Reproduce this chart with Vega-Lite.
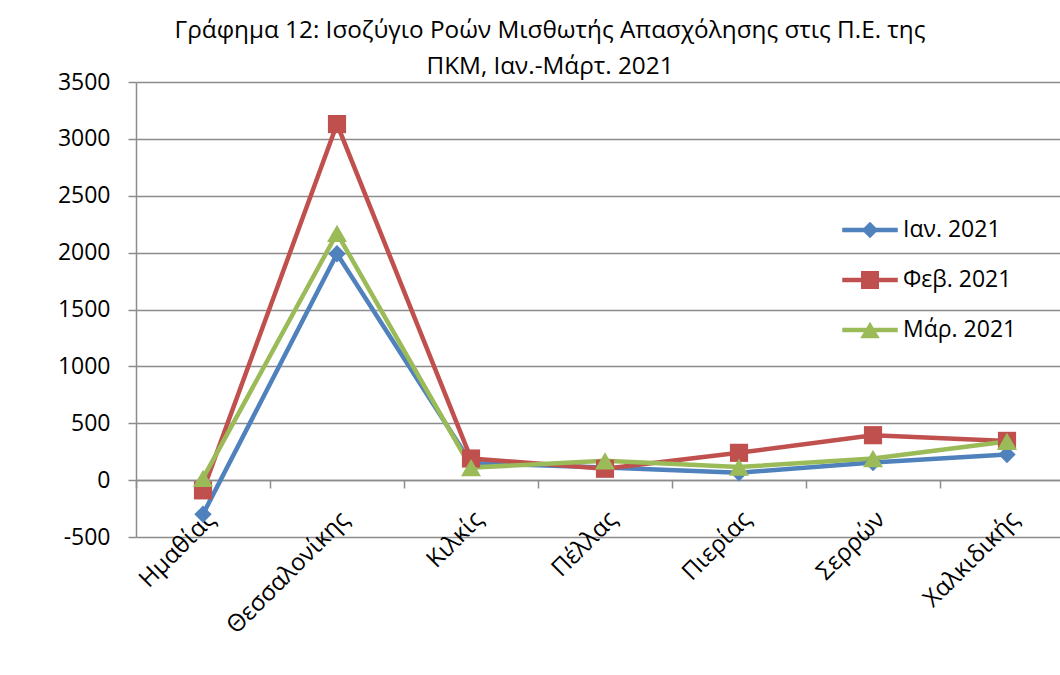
{
  "$schema": "https://vega.github.io/schema/vega-lite/v6.json",
  "width": 924,
  "height": 455,
  "autosize": {"type": "none"},
  "padding": {"left": 136, "top": 82, "right": 0, "bottom": 138},
  "background": "white",
  "config": {"view": {"stroke": null}},
  "title": {
    "text": ["Γράφημα 12: Ισοζύγιο Ροών Μισθωτής Απασχόλησης στις Π.Ε. της", "ΠΚΜ, Ιαν.-Μάρτ. 2021"],
    "font": "Open Sans", "fontSize": 24.3, "fontWeight": "normal", "color": "#000000",
    "lineHeight": 36, "anchor": "middle", "frame": "group", "dx": -48, "offset": -8
  },
  "data": {"values": [
    {"region": "Ημαθίας", "series": "Ιαν. 2021", "value": -300},
    {"region": "Θεσσαλονίκης", "series": "Ιαν. 2021", "value": 1990},
    {"region": "Κιλκίς", "series": "Ιαν. 2021", "value": 150},
    {"region": "Πέλλας", "series": "Ιαν. 2021", "value": 110},
    {"region": "Πιερίας", "series": "Ιαν. 2021", "value": 65},
    {"region": "Σερρών", "series": "Ιαν. 2021", "value": 155},
    {"region": "Χαλκιδικής", "series": "Ιαν. 2021", "value": 225},
    {"region": "Ημαθίας", "series": "Φεβ. 2021", "value": -90},
    {"region": "Θεσσαλονίκης", "series": "Φεβ. 2021", "value": 3130},
    {"region": "Κιλκίς", "series": "Φεβ. 2021", "value": 190},
    {"region": "Πέλλας", "series": "Φεβ. 2021", "value": 100},
    {"region": "Πιερίας", "series": "Φεβ. 2021", "value": 240},
    {"region": "Σερρών", "series": "Φεβ. 2021", "value": 395},
    {"region": "Χαλκιδικής", "series": "Φεβ. 2021", "value": 345},
    {"region": "Ημαθίας", "series": "Μάρ. 2021", "value": 15},
    {"region": "Θεσσαλονίκης", "series": "Μάρ. 2021", "value": 2170},
    {"region": "Κιλκίς", "series": "Μάρ. 2021", "value": 110},
    {"region": "Πέλλας", "series": "Μάρ. 2021", "value": 170},
    {"region": "Πιερίας", "series": "Μάρ. 2021", "value": 115},
    {"region": "Σερρών", "series": "Μάρ. 2021", "value": 190},
    {"region": "Χαλκιδικής", "series": "Μάρ. 2021", "value": 340}
  ]},
  "layer": [
    {
      "transform": [{"filter": "datum.value > 100000"}],
      "mark": {"type": "point", "filled": true, "opacity": 1, "strokeWidth": 0},
      "encoding": {
        "x": {"field": "region", "type": "nominal", "sort": ["Ημαθίας", "Θεσσαλονίκης", "Κιλκίς", "Πέλλας", "Πιερίας", "Σερρών", "Χαλκιδικής"], "axis": null},
        "y": {"field": "value", "type": "quantitative"},
        "color": {
          "field": "series", "type": "nominal",
          "scale": {"domain": ["Ιαν. 2021", "Φεβ. 2021", "Μάρ. 2021"], "range": ["#4F81BD", "#C0504D", "#9BBB59"]},
          "legend": {
            "orient": "none", "legendX": 719, "legendY": 133, "title": null,
            "symbolSize": 900, "symbolStrokeWidth": 0, "symbolOpacity": 1,
            "labelFont": "Open Sans", "labelFontSize": 23, "labelColor": "#000000",
            "labelOffset": 18, "rowPadding": 23, "padding": 0
          }
        },
        "shape": {
          "field": "series", "type": "nominal",
          "scale": {
            "domain": ["Ιαν. 2021", "Φεβ. 2021", "Μάρ. 2021"],
            "range": [
              "M-1.85,-0.15H1.85V0.15H-1.85Z M0,-0.55L0.55,0L0,0.55L-0.55,0Z",
              "M-1.85,-0.15H1.85V0.15H-1.85Z M-0.6,-0.6H0.6V0.6H-0.6Z",
              "M-1.85,-0.15H1.85V0.15H-1.85Z M0,-0.55L0.65,0.55H-0.65Z"
            ]
          },
          "legend": null
        }
      }
    },
    {
      "mark": {"type": "line", "strokeWidth": 4.5},
      "encoding": {
        "x": {
          "field": "region", "type": "nominal",
          "sort": ["Ημαθίας", "Θεσσαλονίκης", "Κιλκίς", "Πέλλας", "Πιερίας", "Σερρών", "Χαλκιδικής"],
          "scale": {"type": "band", "range": [0, 938], "paddingInner": 0, "paddingOuter": 0},
          "axis": {
            "title": null, "orient": "bottom", "domain": false, "ticks": false, "grid": false,
            "labelAngle": -45, "labelFont": "Open Sans", "labelFontSize": 24, "labelColor": "#000000",
            "labelPadding": -30
          }
        },
        "y": {
          "field": "value", "type": "quantitative",
          "scale": {"domain": [-500, 3500], "nice": false, "zero": false},
          "axis": {
            "title": null, "values": [-500, 0, 500, 1000, 1500, 2000, 2500, 3000, 3500],
            "labelExpr": "'' + datum.value",
            "grid": true, "gridColor": "#8c8c8c", "gridWidth": 1.5,
            "domainColor": "#8c8c8c", "domainWidth": 1.5,
            "tickColor": "#8c8c8c", "tickWidth": 1.5, "tickSize": 8,
            "labelFont": "Open Sans", "labelFontSize": 23, "labelColor": "#000000", "labelPadding": 18
          }
        },
        "color": {"field": "series", "type": "nominal"}
      }
    },
    {
      "transform": [{"filter": "datum.series === 'Ιαν. 2021'"}],
      "mark": {"type": "point", "filled": true, "opacity": 1, "strokeWidth": 0, "shape": "diamond", "size": 300},
      "encoding": {
        "x": {
          "field": "region", "type": "nominal",
          "sort": ["Ημαθίας", "Θεσσαλονίκης", "Κιλκίς", "Πέλλας", "Πιερίας", "Σερρών", "Χαλκιδικής"],
          "axis": {
            "title": null, "orient": "bottom", "offset": -57, "labels": false, "grid": false,
            "domain": true, "domainColor": "#8c8c8c", "domainWidth": 1.5,
            "ticks": true, "tickBand": "extent", "tickColor": "#8c8c8c", "tickWidth": 1.5, "tickSize": 8
          }
        },
        "y": {"field": "value", "type": "quantitative"},
        "color": {"field": "series", "type": "nominal"}
      }
    },
    {
      "transform": [{"filter": "datum.series === 'Φεβ. 2021'"}],
      "mark": {"type": "point", "filled": true, "opacity": 1, "strokeWidth": 0, "shape": "square", "size": 330},
      "encoding": {
        "x": {"field": "region", "type": "nominal", "sort": ["Ημαθίας", "Θεσσαλονίκης", "Κιλκίς", "Πέλλας", "Πιερίας", "Σερρών", "Χαλκιδικής"], "axis": null},
        "y": {"field": "value", "type": "quantitative"},
        "color": {"field": "series", "type": "nominal"}
      }
    },
    {
      "transform": [{"filter": "datum.series === 'Μάρ. 2021'"}],
      "mark": {"type": "point", "filled": true, "opacity": 1, "strokeWidth": 0, "shape": "triangle-up", "size": 400},
      "encoding": {
        "x": {"field": "region", "type": "nominal", "sort": ["Ημαθίας", "Θεσσαλονίκης", "Κιλκίς", "Πέλλας", "Πιερίας", "Σερρών", "Χαλκιδικής"], "axis": null},
        "y": {"field": "value", "type": "quantitative"},
        "color": {"field": "series", "type": "nominal"}
      }
    }
  ],
  "resolve": {"axis": {"x": "independent"}}
}
